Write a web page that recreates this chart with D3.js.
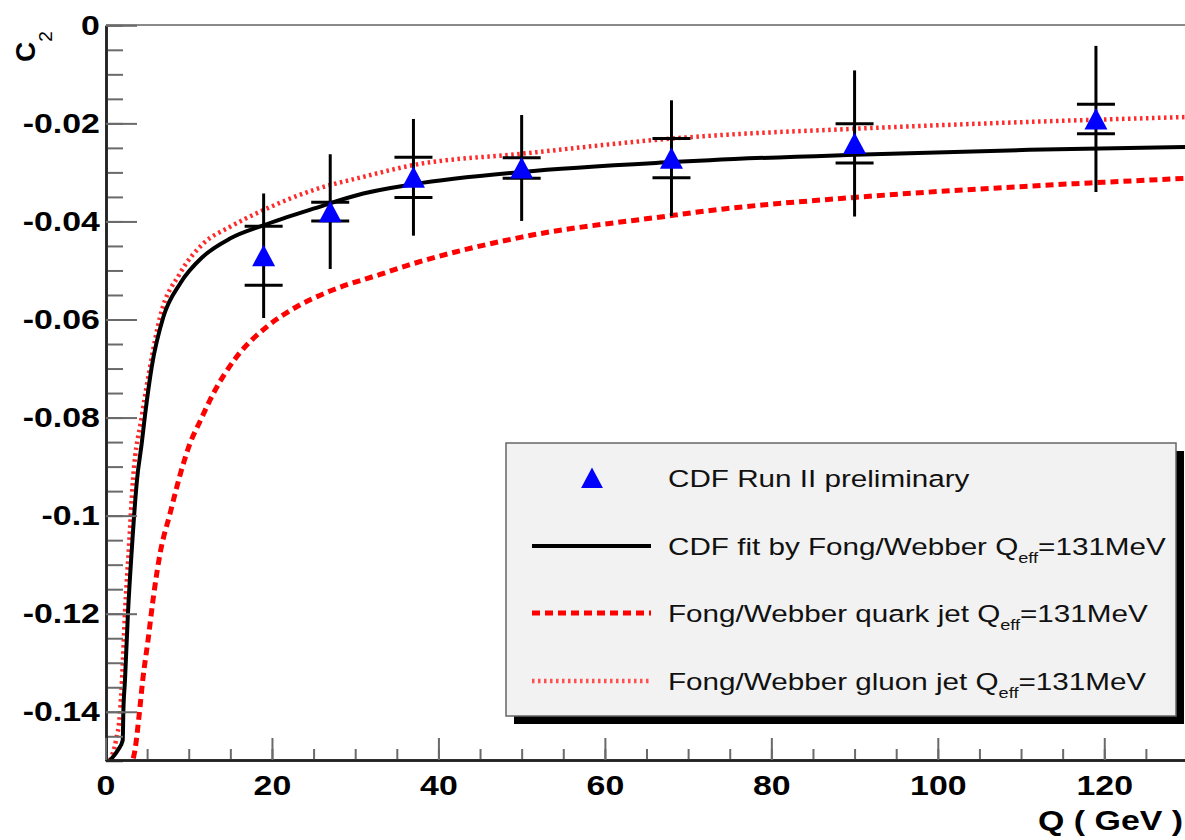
<!DOCTYPE html>
<html>
<head>
<meta charset="utf-8">
<script src="https://cdn.jsdelivr.net/npm/d3@7"></script>
<style>
body{margin:0;background:#fff;}
</style>
</head>
<body>
<svg id="chart" width="1185" height="840"></svg>
<script>
// data
var pointQ=[19,27,37,50,68,90,119];
var pointC=[-0.0470,-0.0380,-0.0310,-0.0291,-0.0271,-0.0241,-0.0191];
var statErr=[0.0060,0.0019,0.0041,0.0021,0.0040,0.0040,0.0030];
var totErr=[0.0127,0.0117,0.0119,0.0108,0.0118,0.0149,0.0149];

var fitQ=[0.54,1.5,2.07,2.14,2.34,2.70,3.18,3.78,4.35,4.75,5.55,6.95,8.95,11.7,14.96,18.96,24.97,30.97,37,50,68,72.6,90,111,130];
var fitC=[-0.1499,-0.1478,-0.1458,-0.1403,-0.1336,-0.1199,-0.1064,-0.0928,-0.0853,-0.0795,-0.0697,-0.0595,-0.0527,-0.0472,-0.0435,-0.0408,-0.0374,-0.0343,-0.0324,-0.0299,-0.0279,-0.0275,-0.0264,-0.0254,-0.0248];

var quarkQ=[3.34,3.54,4.06,4.47,5.14,5.74,6.55,7.75,9.35,10.15,11.35,12.95,15.76,19.37,22.97,26.97,33,37,50,68,72,90,111,130];
var quarkC=[-0.1495,-0.1478,-0.1404,-0.1336,-0.1250,-0.1168,-0.1078,-0.0996,-0.0894,-0.0853,-0.0808,-0.0751,-0.0676,-0.0615,-0.0574,-0.0542,-0.0508,-0.0486,-0.0432,-0.0388,-0.0379,-0.0351,-0.0328,-0.0312];

var gluonQ=[0.54,1.26,1.74,1.98,2.34,2.82,3.30,4.35,5.35,6.55,8.95,11.75,14.96,18.96,24.97,30.97,37,50,68,72,90,111,130];
var gluonC=[-0.1499,-0.1458,-0.1403,-0.1336,-0.1199,-0.1064,-0.0928,-0.0799,-0.0697,-0.0595,-0.0506,-0.0445,-0.0411,-0.0377,-0.0336,-0.0309,-0.0285,-0.0262,-0.0231,-0.0226,-0.0211,-0.0197,-0.0187];

var xTicks=[0,20,40,60,80,100,120];
var xTickLabels=['0','20','40','60','80','100','120'];
var yTicks=[0,-0.02,-0.04,-0.06,-0.08,-0.1,-0.12,-0.14];
var yTickLabels=['0','-0.02','-0.04','-0.06','-0.08','-0.1','-0.12','-0.14'];

var legendLabels=[
    [{t:'CDF Run II preliminary'}],
    [{t:'CDF fit by Fong/Webber Q'},{t:'eff',sub:true},{t:'=131MeV'}],
    [{t:'Fong/Webber quark jet Q'},{t:'eff',sub:true},{t:'=131MeV'}],
    [{t:'Fong/Webber gluon jet Q'},{t:'eff',sub:true},{t:'=131MeV'}]
];

var SX=1.21;   // the picture is stretched sideways
var family='Liberation Sans, Arial, Helvetica, sans-serif';

var svg=d3.select('#chart');
var plotL=106, plotT=25, plotB=760;

var x=d3.scaleLinear().domain([0,130]).range([105.5,1187.5]);
var y=d3.scaleLinear().domain([-0.15,0]).range([760.8,25.3]);

svg.append('defs').append('clipPath')
    .attr('id','plotclip')
    .append('rect')
    .attr('x',plotL).attr('y',plotT)
    .attr('width',1190-plotL).attr('height',plotB-plotT);

// top frame
svg.append('line')
    .attr('x1',plotL).attr('x2',1185)
    .attr('y1',plotT).attr('y2',plotT)
    .attr('stroke','#8a8a8a').attr('stroke-width',2);

// curves
var line=function(qs,cs){
    return d3.line()
        .x(function(d){return x(d[0]);})
        .y(function(d){return y(d[1]);})
        .curve(d3.curveMonotoneX)(d3.zip(qs,cs));
};
var curves_g=svg.append('g').attr('clip-path','url(#plotclip)');
curves_g.append('path')
    .attr('d',line(quarkQ,quarkC))
    .attr('fill','none').attr('stroke','#ff0000')
    .attr('stroke-width',5).attr('stroke-dasharray','8,5');
curves_g.append('path')
    .attr('d',line(gluonQ,gluonC))
    .attr('fill','none').attr('stroke','#ff2a2a')
    .attr('stroke-width',4.5).attr('stroke-dasharray','2.5,3.5');
curves_g.append('path')
    .attr('d',line(fitQ,fitC))
    .attr('fill','none').attr('stroke','#000')
    .attr('stroke-width',4);

// error bars and markers
var pts=pointQ.map(function(q,i){
    return {q:q,c:pointC[i],s:statErr[i],t:totErr[i]};
});
var err_g=svg.append('g');
err_g.selectAll('line.tot')
    .data(pts).enter().append('line')
    .attr('class','tot')
    .attr('x1',function(d){return x(d.q);})
    .attr('x2',function(d){return x(d.q);})
    .attr('y1',function(d){return y(d.c+d.t);})
    .attr('y2',function(d){return y(d.c-d.t);})
    .attr('stroke','#000').attr('stroke-width',3);
[1,-1].forEach(function(sgn){
    err_g.selectAll('line.bar'+sgn)
        .data(pts).enter().append('line')
        .attr('x1',function(d){return x(d.q)-19;})
        .attr('x2',function(d){return x(d.q)+19;})
        .attr('y1',function(d){return y(d.c+sgn*d.s);})
        .attr('y2',function(d){return y(d.c+sgn*d.s);})
        .attr('stroke','#000').attr('stroke-width',3);
});
var tri='M0,-11L11.5,10.5L-11.5,10.5Z';
svg.append('g').selectAll('path')
    .data(pts).enter().append('path')
    .attr('d',tri)
    .attr('transform',function(d){return 'translate('+x(d.q)+','+y(d.c)+')';})
    .attr('fill','#0000ff');

// axes
var yAxisMinor=d3.axisLeft(y)
    .tickValues(d3.range(0,31).map(function(i){return -i*0.005;}))
    .tickSize(-17).tickSizeOuter(0).tickFormat('');
var yAxis=d3.axisLeft(y)
    .tickValues(yTicks).tickSize(-31).tickSizeOuter(0).tickPadding(5)
    .tickFormat(function(d,i){return yTickLabels[i];});
var xAxisMinor=d3.axisBottom(x)
    .tickValues(d3.range(0,27).map(function(i){return i*5;}))
    .tickSize(-11).tickSizeOuter(0).tickFormat('');
var xAxis=d3.axisBottom(x)
    .tickValues(xTicks).tickSize(-22).tickSizeOuter(0).tickPadding(15)
    .tickFormat(function(d,i){return xTickLabels[i];});

var ax_g=svg.append('g');
[yAxisMinor,yAxis].forEach(function(a){
    ax_g.append('g').attr('transform','translate('+plotL+',0)').call(a);
});
[xAxisMinor,xAxis].forEach(function(a){
    ax_g.append('g').attr('transform','translate(0,'+plotB+')').call(a);
});
ax_g.selectAll('.domain').attr('stroke','#222').attr('stroke-width',2.5);
ax_g.selectAll('.tick line').attr('stroke','#6a6a6a').attr('stroke-width',2);
ax_g.selectAll('.tick text')
    .attr('transform','scale('+SX+',1)')
    .style('font-family',family)
    .style('font-size','28px')
    .style('font-weight','bold')
    .attr('fill','#000');

// axis titles
svg.append('text')
    .attr('transform','translate(1183,830) scale('+SX+',1)')
    .attr('text-anchor','end')
    .style('font-family',family).style('font-size','28px').style('font-weight','bold')
    .text('Q ( GeV )');
var ytitle=svg.append('text')
    .attr('transform','translate(35,62) rotate(-90)')
    .style('font-family',family).style('font-size','28px').style('font-weight','bold');
ytitle.append('tspan').text('C');
ytitle.append('tspan').attr('dy',17).style('font-size','19px').style('font-weight','normal').text('2');

// legend
var legX=506, legY=443, legW=670, legH=273;
var leg_g=svg.append('g');
leg_g.append('rect')
    .attr('x',legX+8).attr('y',legY+8)
    .attr('width',legW).attr('height',legH)
    .attr('fill','#000');
leg_g.append('rect')
    .attr('x',legX).attr('y',legY)
    .attr('width',legW).attr('height',legH)
    .attr('fill','#f2f2f2').attr('stroke','#666').attr('stroke-width',1.5);

var rowY=[478,546,613,681];
leg_g.append('path')
    .attr('d',tri)
    .attr('transform','translate(592,'+rowY[0]+') scale(0.95)')
    .attr('fill','#0000ff');
var legStyles=[null,
    {stroke:'#000',w:4,dash:null},
    {stroke:'#ff0000',w:5,dash:'8,5'},
    {stroke:'#ff5050',w:4.5,dash:'2.5,3.5'}];
legStyles.forEach(function(s,i){
    if(!s){return;}
    leg_g.append('line')
        .attr('x1',532).attr('x2',651)
        .attr('y1',rowY[i]).attr('y2',rowY[i])
        .attr('stroke',s.stroke).attr('stroke-width',s.w)
        .attr('stroke-dasharray',s.dash);
});
legendLabels.forEach(function(parts,i){
    var t=leg_g.append('text')
        .attr('transform','translate(668,'+(rowY[i]+9)+') scale('+SX+',1)')
        .style('font-family',family).style('font-size','24.5px')
        .attr('fill','#111');
    parts.forEach(function(p){
        var ts=t.append('tspan').text(p.t);
        if(p.sub){
            ts.attr('dy',8).style('font-size','15px');
        }
        else if(t.selectAll('tspan').size()>1){
            ts.attr('dy',-8);
        }
    });
});
</script>
</body>
</html>
